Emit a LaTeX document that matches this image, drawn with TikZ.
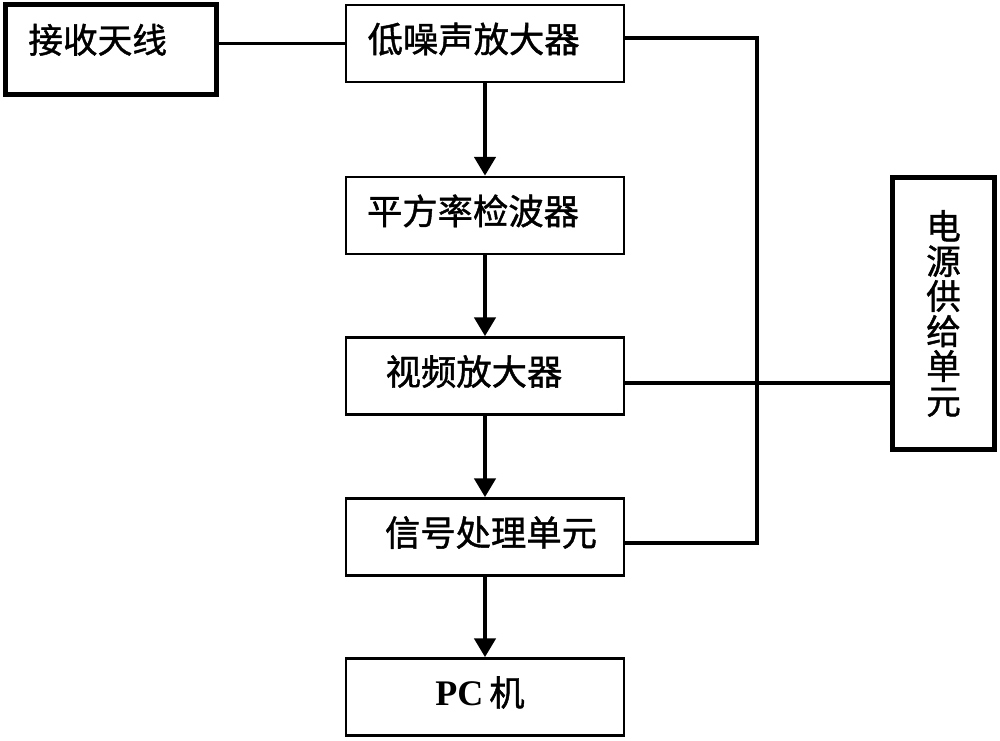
\documentclass[tikz,border=0pt]{standalone}
\usepackage{fontspec}
\setmainfont{Liberation Serif}
\newfontfamily\cjk[FakeBold=1.2]{Noto Sans CJK SC}
\usetikzlibrary{arrows.meta}
\tikzset{
  blk/.style={draw=black, line width=1.9pt, minimum width=208.5pt, minimum height=58pt,
    inner sep=0pt, font=\cjk\fontsize{26.5}{30}\selectfont, text height=20pt, text depth=6.6pt},
  thickblk/.style={draw=black, line width=3.75pt, inner sep=0pt, font=\cjk\fontsize{26}{30}\selectfont},
  conn/.style={line width=2.6pt, draw=black},
  flow/.style={line width=2.6pt, draw=black, -{Triangle[width=16pt,length=14pt]}}
}
\begin{document}
\begin{tikzpicture}[x=0.75pt,y=-0.75pt]
\useasboundingbox (0,0) rectangle (1000,741);
\node[thickblk, minimum width=158.25pt, minimum height=67.5pt, text width=124pt, align=left,
  text height=20pt, text depth=14.8pt] (ant) at (111,49.5) {接收天线};
\node[thickblk, minimum width=76.5pt, minimum height=204pt, align=center,
  font=\cjk\fontsize{26}{26.25}\selectfont] (pwr) at (943.5,313.5) {电\\源\\供\\给\\单\\元};
\node[blk] (lna) at (485,43.5) {\kern-17pt 低噪声放大器};
\node[blk] (sq) at (485,215.5) {\kern-18pt 平方率检波器};
\node[blk] (vid) at (485,376) {\kern-16.5pt 视频放大器};
\node[blk] (sig) at (485,537) {\kern9pt 信号处理单元};
\node[blk] (pc) at (485,697) {\kern-7.5pt{\rmfamily\bfseries\fontsize{27}{30}\selectfont PC}\,机};
\coordinate (bus) at (757,383);
\draw[conn] (lna.west) -- (lna.west -| ant.east);
\draw[conn] ([yshift=4.1pt]lna.east) -| (bus) |- ([yshift=-4.5pt]sig.east);
\draw[conn] ([yshift=-5.25pt]vid.east) -- ([yshift=-5.25pt]vid.east -| pwr.west);
\draw[flow] (lna) -- (sq);
\draw[flow] (sq) -- (vid);
\draw[flow] (vid) -- (sig);
\draw[flow] (sig) -- (pc);
\end{tikzpicture}
\end{document}
